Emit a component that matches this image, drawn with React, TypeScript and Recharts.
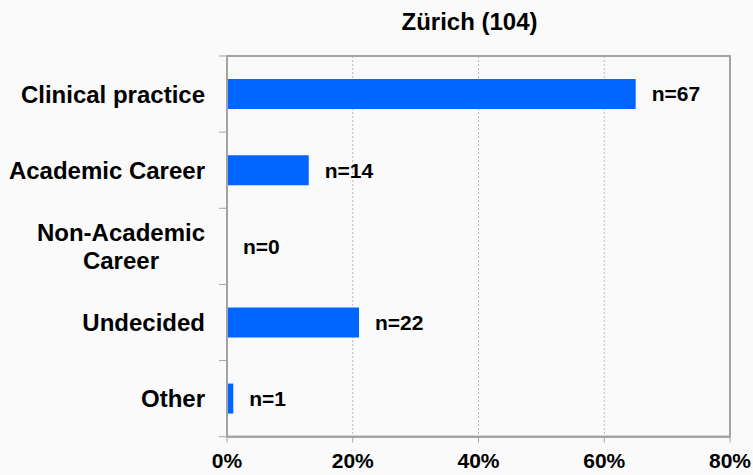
import React from 'react';
import {
  BarChart,
  Bar,
  XAxis,
  YAxis,
  CartesianGrid,
  LabelList,
  ReferenceArea,
} from 'recharts';

const title = 'Zürich (104)';
const categories = ['Clinical practice', 'Academic Career', 'Non-Academic\nCareer', 'Undecided', 'Other'];
const percentages = [65, 13, 0, 21, 1];
const counts = [67, 14, 0, 22, 1];
const xTicks = [0, 20, 40, 60, 80];

const data = categories.map((name, i) => ({
  name,
  pct: percentages[i],
  label: `n=${counts[i]}`,
}));

const FONT = '"Liberation Sans", Arial, Helvetica, sans-serif';
const AXIS = '#a3a3a3';
const CAT_FS = 24;
const TICK_LEN = 8;
const LABEL_GAP = 22;

let ctx: CanvasRenderingContext2D | null = null;
function measure(s: string): number {
  if (!ctx) {
    ctx = document.createElement('canvas').getContext('2d');
  }
  if (!ctx) return s.length * CAT_FS * 0.6;
  ctx.font = `bold ${CAT_FS}px "Liberation Sans"`;
  return ctx.measureText(s).width;
}

function CategoryTick(props: any) {
  const { x, y, payload, index, visibleTicksCount } = props;
  const lines = String(payload.value).split('\n');
  const lh = 27.7;
  const widths = lines.map(measure);
  const maxW = Math.max(...widths);
  const cx = x - maxW / 2;
  const half = payload.offset || 0;
  const axisX = x + LABEL_GAP;
  const isLast = visibleTicksCount ? index === visibleTicksCount - 1 : false;
  return (
    <g>
      <line x1={axisX - TICK_LEN} x2={axisX} y1={y - half} y2={y - half} stroke={AXIS} strokeWidth={1} />
      {isLast && (
        <line x1={axisX - TICK_LEN} x2={axisX} y1={y + half} y2={y + half} stroke={AXIS} strokeWidth={1} />
      )}
      {lines.map((ln, i) => (
        <text
          key={i}
          x={lines.length > 1 ? cx : x}
          y={y + (i - (lines.length - 1) / 2) * lh + CAT_FS * 0.355}
          textAnchor={lines.length > 1 ? 'middle' : 'end'}
          fontFamily={FONT}
          fontWeight="bold"
          fontSize={CAT_FS}
          fill="#000"
        >
          {ln}
        </text>
      ))}
    </g>
  );
}

export default function App() {
  return (
    <div
      style={{
        position: 'absolute',
        left: 0,
        top: 0,
        width: 753,
        height: 475,
        background: '#fafafa',
        fontFamily: FONT,
      }}
    >
      <div
        style={{
          position: 'absolute',
          left: 369.5,
          width: 200,
          top: 9.5,
          lineHeight: '24px',
          fontSize: 24,
          fontWeight: 'bold',
          textAlign: 'center',
          color: '#000',
          whiteSpace: 'nowrap',
        }}
      >
        {title}
      </div>
      <BarChart
        width={753}
        height={475}
        layout="vertical"
        data={data}
        margin={{ top: 56, right: 23, bottom: 0, left: 0 }}
        barSize={30}
      >
        <CartesianGrid horizontal={false} stroke="#b8b8b8" strokeDasharray="2 2" />
        <XAxis
          type="number"
          domain={[0, 80]}
          ticks={xTicks}
          allowDataOverflow
          tickFormatter={(v: number) => `${v}%`}
          height={38.3}
          tickSize={6}
          tickMargin={10}
          axisLine={{ stroke: AXIS, strokeWidth: 2 }}
          tickLine={{ stroke: AXIS }}
          tick={{ fill: '#000', fontSize: 21, fontWeight: 'bold', fontFamily: FONT }}
        />
        <YAxis
          type="category"
          dataKey="name"
          width={227}
          interval={0}
          tickLine={false}
          tickSize={0}
          tickMargin={LABEL_GAP}
          axisLine={{ stroke: AXIS, strokeWidth: 2 }}
          tick={<CategoryTick />}
        />
        <ReferenceArea
          x1={0}
          x2={80}
          fill="none"
          fillOpacity={0}
          stroke={AXIS}
          strokeWidth={2}
          ifOverflow="visible"
        />
        <Bar dataKey="pct" fill="#0066FF" minPointSize={0.01} isAnimationActive={false}>
          <LabelList
            dataKey="label"
            position="right"
            offset={16}
            fill="#000"
            fontSize={21}
            fontWeight="bold"
            fontFamily={FONT}
          />
        </Bar>
      </BarChart>
    </div>
  );
}
